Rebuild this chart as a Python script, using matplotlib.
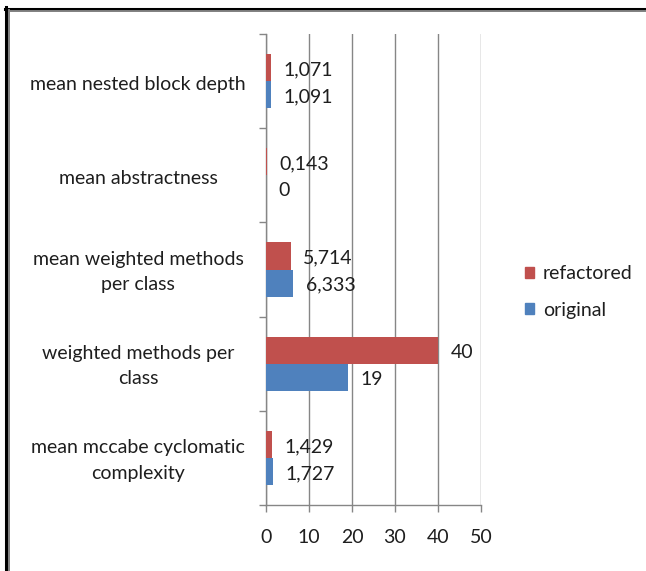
import matplotlib
matplotlib.use("Agg")
import matplotlib.pyplot as plt
from matplotlib.lines import Line2D
from matplotlib.patches import Patch
import numpy as np

plt.rcParams['font.family'] = ['Lato', 'DejaVu Sans']

categories = [
    "mean mccabe cyclomatic\ncomplexity",
    "weighted methods per\nclass",
    "mean weighted methods\nper class",
    "mean abstractness",
    "mean nested block depth",
]
refactored = [1.429, 40, 5.714, 0.143, 1.071]
original = [1.727, 19, 6.333, 0, 1.091]
series_names = ["refactored", "original"]
x_ticks = [0, 10, 20, 30, 40, 50]

RED = "#C0504D"
BLUE = "#4F81BD"
GRID = "#868686"
TXT = "#1e1e1e"
FS = 14

W, H = 646, 571
fig = plt.figure(figsize=(W / 100, H / 100), dpi=100)
ax = fig.add_axes([266 / W, 1 - 505 / H, (481 - 266) / W, (505 - 34) / H])

y = np.arange(len(categories))
h = 0.287
ax.barh(y + h / 2, refactored, height=h, color=RED, zorder=3)
ax.barh(y - h / 2, original, height=h, color=BLUE, zorder=3)


def fmt(v):
    return ("%g" % v).replace(".", ",")


for yi, v in zip(y + h / 2, refactored):
    ax.annotate(fmt(v), (v, yi), xytext=(9, -1.5), textcoords="offset points",
                va="center", ha="left", fontsize=FS, color=TXT)
for yi, v in zip(y - h / 2, original):
    ax.annotate(fmt(v), (v, yi), xytext=(9, -1.5), textcoords="offset points",
                va="center", ha="left", fontsize=FS, color=TXT)

ax.set_xlim(0, 50)
ax.set_ylim(-0.5, len(categories) - 0.5)
ax.set_xticks(x_ticks)
ax.set_xticklabels([str(t) for t in x_ticks], fontsize=FS, color=TXT)
ax.xaxis.grid(True, color=GRID, linewidth=1, zorder=0)

# category boundaries get the tick marks, names sit between them
ax.set_yticks(np.arange(len(categories) + 1) - 0.5)
ax.set_yticklabels([])
label_pos = [yi + (0.035 if "\n" in c else -0.015) for yi, c in zip(y, categories)]
ax.set_yticks(label_pos, minor=True)
ax.set_yticklabels(categories, minor=True, fontsize=FS, color=TXT,
                   ha="center", multialignment="center", linespacing=1.6)
ax.tick_params(axis="y", which="minor", length=0, pad=92)
ax.tick_params(axis="y", which="major", length=5, color=GRID, width=1)
ax.tick_params(axis="x", length=5, color=GRID, width=1, pad=12)

for s in ("top", "right"):
    ax.spines[s].set_visible(False)
for s in ("left", "bottom"):
    ax.spines[s].set_color(GRID)
    ax.spines[s].set_linewidth(1)

handles = [Patch(color=RED), Patch(color=BLUE)]
fig.legend(handles, series_names, loc="center left",
           bbox_to_anchor=(507 / W, 1 - 292 / H), frameon=False,
           fontsize=FS, handlelength=0.5, handleheight=0.5,
           handletextpad=0.45, labelspacing=1.0, labelcolor=TXT)

# outer frame: dark line with a grey inner shadow along top and left
fig.add_artist(Line2D([5 / W, 1], [1 - 8.5 / H, 1 - 8.5 / H],
                      transform=fig.transFigure, color="black", linewidth=2.2))
fig.add_artist(Line2D([8 / W, 1], [1 - 11 / H, 1 - 11 / H],
                      transform=fig.transFigure, color="#808080", linewidth=1.4))
fig.add_artist(Line2D([6 / W, 6 / W], [0, 1 - 7 / H],
                      transform=fig.transFigure, color="black", linewidth=2.2))
fig.add_artist(Line2D([8.5 / W, 8.5 / W], [0, 1 - 10 / H],
                      transform=fig.transFigure, color="#808080", linewidth=1.4))

fig.savefig("out.png", dpi=100, facecolor="white")
